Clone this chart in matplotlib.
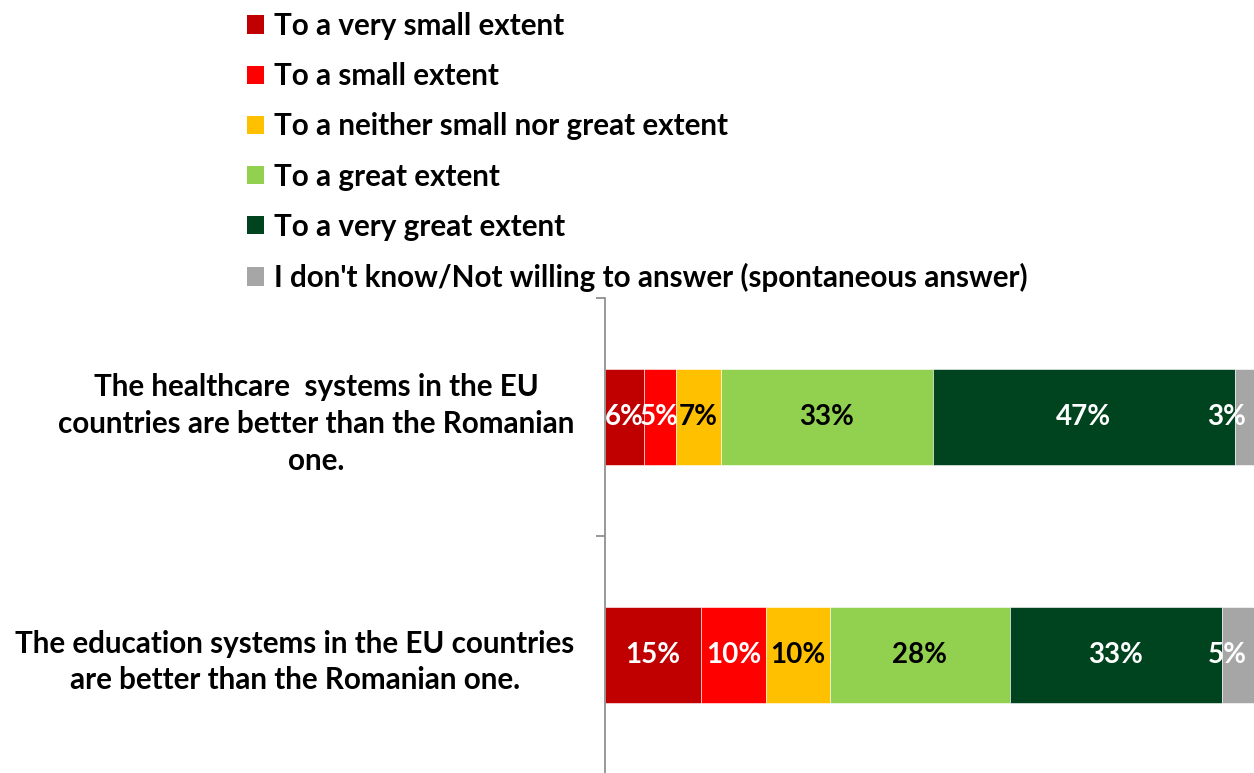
import matplotlib
matplotlib.use("Agg")
import matplotlib.pyplot as plt
from matplotlib.patches import Patch
import numpy as np

plt.rcParams['font.family'] = ['Lato', 'DejaVu Sans']
plt.rcParams['font.weight'] = 'bold'

categories = [
    "The healthcare  systems in the EU\ncountries are better than the Romanian\none.",
    "The education systems in the EU countries\nare better than the Romanian one.",
]
series_names = [
    "To a very small extent",
    "To a small extent",
    "To a neither small nor great extent",
    "To a great extent",
    "To a very great extent",
    "I don't know/Not willing to answer (spontaneous answer)",
]
healthcare = [6, 5, 7, 33, 47, 3]
education = [15, 10, 10, 28, 33, 5]

colors = ["#C00000", "#FF0000", "#FFC000", "#92D050", "#00441F", "#A6A6A6"]
label_colors = ["white", "white", "black", "black", "white", "white"]

values = np.array([healthcare, education], dtype=float)
FS = 21.3
VAL_FS = 20

fig = plt.figure(figsize=(12.54, 7.73), dpi=100)
ax = fig.add_axes([605 / 1254, -1 / 773, 649 / 1254, 476 / 773])

ypos = np.arange(len(categories))
left = np.zeros(len(categories))
handles = []
xmax = values.sum(axis=1).max()
for j, name in enumerate(series_names):
    w = values[:, j]
    ax.barh(ypos, w, left=left, height=0.4, color=colors[j],
            edgecolor="white", linewidth=0.4, label=name)
    handles.append(Patch(facecolor=colors[j], edgecolor="none", label=name))
    for i in range(len(categories)):
        if j == len(series_names) - 1:
            # last segment: keep its label inside the plot area
            ax.text(xmax - 1.2, ypos[i], f"{int(w[i])}%", ha="right", va="center",
                    color=label_colors[j], fontsize=VAL_FS, fontweight="bold")
        else:
            ax.text(left[i] + w[i] / 2, ypos[i], f"{int(w[i])}%", ha="center",
                    va="center", color=label_colors[j], fontsize=VAL_FS,
                    fontweight="bold")
    left = left + w

ax.set_xlim(0, xmax)
ax.set_ylim(len(categories) - 0.5, -0.5)
ax.set_yticks(ypos)
ax.set_yticklabels(categories, fontsize=FS, fontweight="bold",
                   multialignment="center", linespacing=1.385)
ax.set_yticks(np.arange(len(categories) + 1) - 0.5, minor=True)
ax.tick_params(axis="y", which="major", length=0, pad=22)
ax.tick_params(axis="y", which="minor", length=6.5, color="#888888", width=1.2)
ax.set_xticks([])
for s in ["top", "right", "bottom"]:
    ax.spines[s].set_visible(False)
ax.spines["left"].set_color("#888888")
ax.spines["left"].set_linewidth(1.2)

fig.legend(handles=handles, loc="upper left", bbox_to_anchor=(247 / 1254, 1 - 12 / 773),
           frameon=False, handlelength=0.575, handleheight=0.575,
           handletextpad=0.34, labelspacing=0.75, borderaxespad=0, borderpad=0,
           prop={"weight": "bold", "size": FS})

fig.savefig("out.png", dpi=100)
